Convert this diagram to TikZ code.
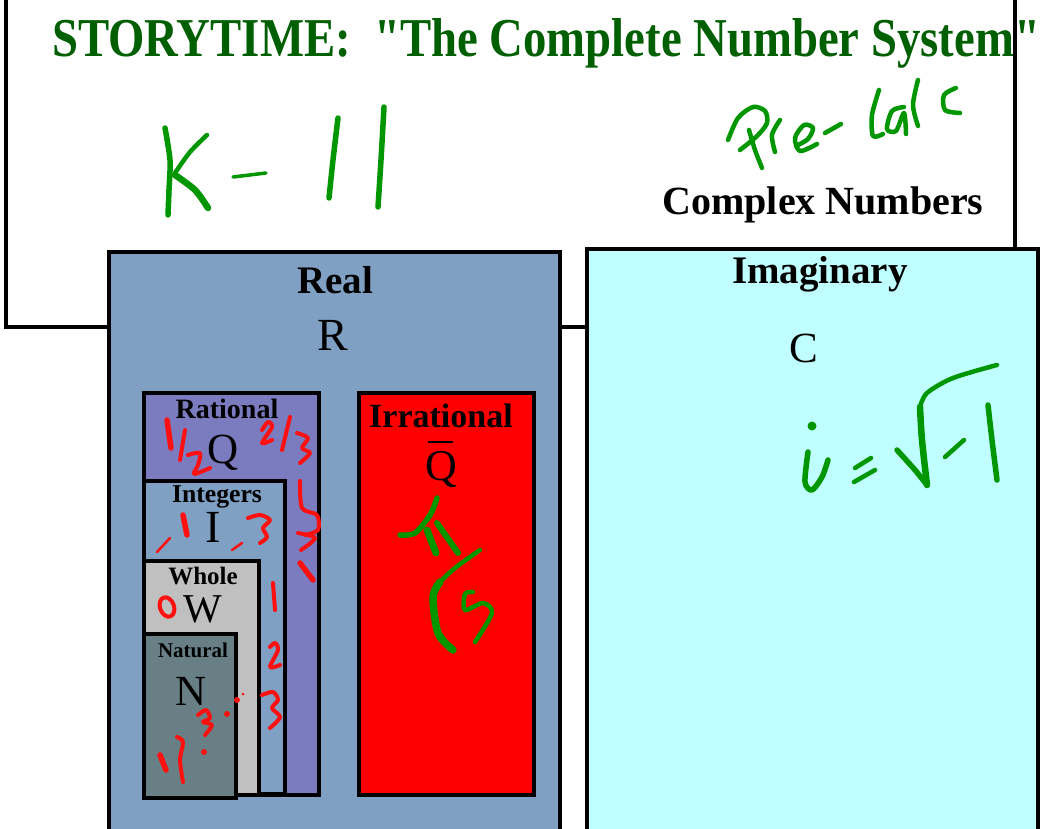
\documentclass[tikz,border=0pt]{standalone}
\usepackage{fontspec}
\setmainfont{Liberation Serif}
\newfontfamily\titlefont{Liberation Serif}
\usepackage{graphicx}
\definecolor{realblue}{HTML}{7F9FC3}
\definecolor{imagcyan}{HTML}{C0FFFF}
\definecolor{ratpurple}{HTML}{7B7BBF}
\definecolor{wholegray}{HTML}{C0C0C0}
\definecolor{natgray}{HTML}{687F86}
\definecolor{irred}{HTML}{FF0000}
\definecolor{titlegreen}{HTML}{005F00}
\definecolor{inkgreen}{HTML}{009600}
\definecolor{inkred}{HTML}{FF1010}
\begin{document}
\begin{tikzpicture}[x=1pt,y=-1pt,
  frame/.style={draw=black,line width=4pt},
  setbox/.style={draw=black,line width=4.5pt},
  lbl/.style={inner sep=0pt,anchor=base},
  gink/.style={draw=inkgreen,line width=5.5pt,line cap=round,line join=round},
  ginkthin/.style={draw=inkgreen,line width=4.5pt,line cap=round,line join=round},
  rink/.style={draw=inkred,line width=4pt,line cap=round,line join=round},
  rinkthick/.style={draw=inkred,line width=5.5pt,line cap=round,line join=round}]
\useasboundingbox (0,0) rectangle (1045,829);
\begin{scope}
\clip (0,0) rectangle (1045,829);
\fill[white] (0,0) rectangle (1045,829);
% title
\node[lbl,anchor=base west,text=titlegreen] (title) at (52,57)
  {\resizebox{988pt}{38pt}{\titlefont\fontsize{40}{40}\selectfont\bfseries STORYTIME:\ \ "The Complete Number System"}};
% outer frame
\draw[frame] (6,-20) rectangle (1015,327);
% real and imaginary boxes
\draw[setbox,line width=4pt,fill=realblue] (109,252) rectangle (560,831);
\draw[setbox,line width=4pt,fill=imagcyan] (587,249) rectangle (1038,831);
% nested sets
\draw[setbox,fill=ratpurple] (144,393) rectangle (319,795);
\draw[setbox,fill=realblue] (144,481) rectangle (285,794);
\draw[setbox,fill=wholegray] (144,561) rectangle (259,795);
\draw[setbox,fill=natgray] (144,634) rectangle (236,798);
\draw[setbox,fill=irred] (359,393) rectangle (534,795);
% labels
\node[lbl] (complex) at (823,215) {\fontsize{40}{40}\selectfont\bfseries Complex Numbers};
\node[lbl] (real) at (335,294) {\fontsize{39}{40}\selectfont\bfseries Real};
\node[lbl] (realR) at (333,350) {\fontsize{46}{46}\selectfont R};
\node[lbl] (imag) at (820,284) {\fontsize{39}{40}\selectfont\bfseries Imaginary};
\node[lbl] (imagC) at (804,362) {\fontsize{43}{44}\selectfont C};
\node[lbl] (rat) at (227,418) {\fontsize{28}{28}\selectfont\bfseries Rational};
\node[lbl] (ratQ) at (223,463) {\fontsize{43}{44}\selectfont Q};
\node[lbl] (int) at (217,502) {\fontsize{25.7}{26}\selectfont\bfseries Integers};
\node[lbl] (intI) at (213,542) {\fontsize{46}{46}\selectfont I};
\node[lbl] (whole) at (203,584) {\fontsize{25}{26}\selectfont\bfseries Whole};
\node[lbl] (wholeW) at (203,622) {\fontsize{41}{42}\selectfont W};
\node[lbl] (nat) at (193,657) {\fontsize{21}{22}\selectfont\bfseries Natural};
\node[lbl] (natN) at (191,705) {\fontsize{43}{44}\selectfont N};
\node[lbl] (irr) at (441,427) {\fontsize{34}{34}\selectfont\bfseries Irrational};
\node[lbl] (irrQ) at (441,480) {\fontsize{44}{44}\selectfont Q};
\draw[line width=2pt] (428,442) -- (453,442);
% ---- green handwriting: K - 11
\draw[gink] plot[smooth] coordinates {(165,128) (170,160) (169,190) (168,215)};
\draw[gink,line width=4.5pt] plot[smooth] coordinates {(207,135) (190,152) (175,173)};
\draw[gink,line width=6.5pt] plot[smooth] coordinates {(175,175) (195,190) (208,208)};
\draw[ginkthin,line width=3.5pt] (233,177) -- (266,173);
\draw[gink] plot[smooth] coordinates {(338,118) (333,160) (329,198)};
\draw[gink] plot[smooth] coordinates {(384,107) (381,160) (378,207)};
% Pre-Calc
\draw[ginkthin] plot[smooth] coordinates {(728,140) (738,118) (753,107) (765,111) (767,123) (757,136) (740,150)};
\draw[ginkthin] plot[smooth] coordinates {(749,130) (755,150) (762,168)};
\draw[ginkthin] plot[smooth] coordinates {(780,120) (772,135) (775,152)};
\draw[ginkthin] plot[smooth] coordinates {(796,146) (808,139) (813,128) (804,125) (795,138) (800,151) (817,144)};
\draw[ginkthin] (825,133) -- (841,124);
\draw[ginkthin] plot[smooth] coordinates {(879,90) (872,115) (873,136) (883,134)};
\draw[ginkthin] plot[smooth] coordinates {(904,107) (892,111) (887,129) (896,131) (904,113) (906,134)};
\draw[ginkthin] plot[smooth] coordinates {(918,80) (913,105) (918,126)};
\draw[ginkthin] plot[smooth] coordinates {(956,88) (944,95) (945,110) (960,113)};
% i = sqrt(-1)
\fill[inkgreen] (812,426) circle (4.5pt);
\draw[gink] plot[smooth] coordinates {(808,452) (805,482) (812,490) (822,477) (828,460)};
\draw[ginkthin] (855,468) -- (871,458);
\draw[ginkthin] (854,482) -- (875,470);
\draw[gink] plot[smooth] coordinates {(897,450) (915,470) (927,485)};
\draw[gink,line width=6.5pt] plot[smooth] coordinates {(927,485) (922,440) (920,407)};
\draw[ginkthin] plot[smooth] coordinates {(920,407) (927,393) (953,378) (997,365)};
\draw[ginkthin] (945,457) -- (964,440);
\draw[gink] plot[smooth] coordinates {(988,405) (992,440) (997,480)};
% pi and sqrt 5
\draw[gink] plot[smooth] coordinates {(400,535) (415,533) (430,515) (437,498)};
\draw[gink,line width=7pt] (427,530) -- (436,553);
\draw[gink,line width=6pt] (437,523) -- (458,553);
\draw[ginkthin] plot[smooth] coordinates {(480,550) (455,568) (440,582)};
\draw[gink,line width=7.5pt] plot[smooth] coordinates {(440,582) (433,597) (438,633) (453,650)};
\draw[ginkthin] plot[smooth] coordinates {(473,592) (465,594) (465,610) (483,603) (492,613) (475,642)};
% ---- red handwriting
% 1/2
\draw[rinkthick] (167,420) -- (171,448);
\draw[rink] (185,430) -- (180,460);
\draw[rink] plot[smooth] coordinates {(188,455) (200,453) (198,465) (194,474) (210,468)};
% 2/3
\draw[rink] plot[smooth] coordinates {(262,430) (268,422) (272,427) (262,443) (272,440)};
\draw[rink] (290,417) -- (282,450);
\draw[rink] plot[smooth] coordinates {(297,433) (308,438) (302,448) (310,453) (300,463)};
% right edge marks
\draw[rink] plot[smooth] coordinates {(300,481) (302,508) (317,515) (318,530) (305,535)};
\draw[rink] plot[smooth] coordinates {(298,533) (315,538) (301,550)};
\draw[rinkthick] (300,563) -- (313,580);
% -1 -3
\draw[rink,line width=2.5pt] (157,552) -- (170,538);
\draw[rinkthick] (183,515) -- (187,535);
\draw[rink,line width=2.5pt] (232,550) -- (242,543);
\draw[rink] plot[smooth] coordinates {(248,518) (260,515) (270,520) (263,528) (267,537) (260,543)};
% 0
\draw[rink,rotate around={20:(167,607)}] (167,607) ellipse (7pt and 10pt);
% 1 2 3 in integers strip
\draw[rink] (273,583) -- (275,610);
\draw[rink] plot[smooth] coordinates {(270,647) (275,643) (278,650) (270,667) (280,665)};
\draw[rink] plot[smooth] coordinates {(262,695) (273,692) (278,700) (272,708) (280,717) (270,728)};
% dots and 1,2,3 in natural
\fill[inkred] (237,700) circle (3pt);
\fill[inkred] (243,694) circle (1.5pt);
\fill[inkred] (227,714) circle (3pt);
\fill[inkred] (204,752) circle (3pt);
\draw[rinkthick] (160,755) -- (166,770);
\draw[rink] plot[smooth] coordinates {(177,737) (183,742) (180,760) (183,782)};
\draw[rink] plot[smooth] coordinates {(198,715) (206,710) (210,718) (203,722) (212,725) (205,735)};
\end{scope}
\end{tikzpicture}
\end{document}
